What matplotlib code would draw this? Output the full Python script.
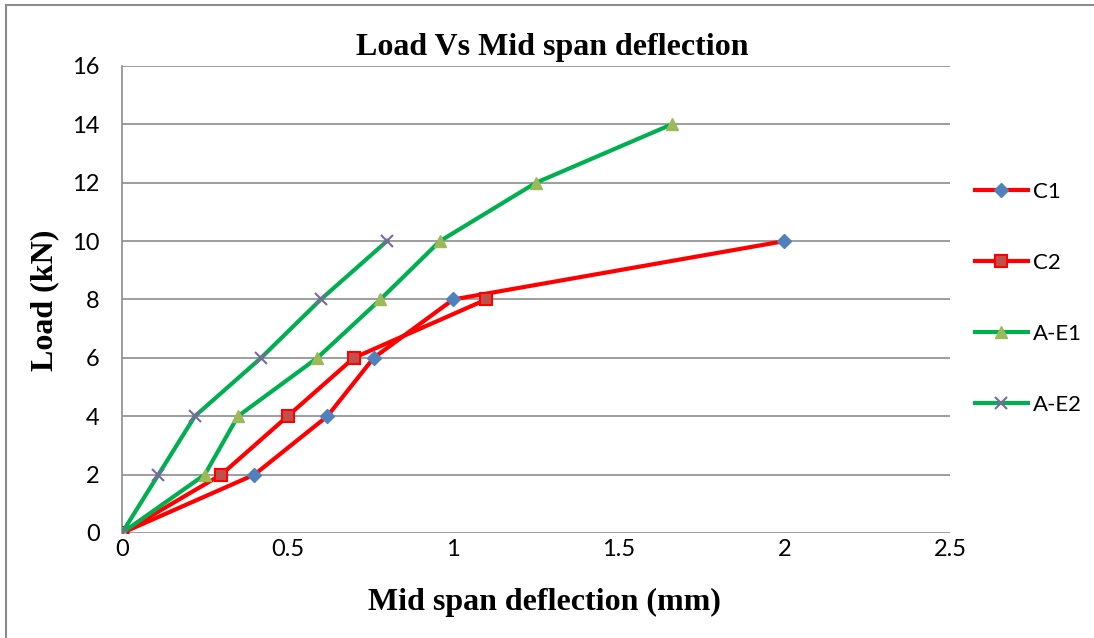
import matplotlib.pyplot as plt
from matplotlib.lines import Line2D

# deflection (mm) and load (kN)
c1_x = [0, 0.40, 0.62, 0.76, 1.00, 2.00]
c1_y = [0, 2, 4, 6, 8, 10]
c2_x = [0, 0.30, 0.50, 0.70, 1.10]
c2_y = [0, 2, 4, 6, 8]
ae1_x = [0, 0.25, 0.35, 0.59, 0.78, 0.96, 1.25, 1.66]
ae1_y = [0, 2, 4, 6, 8, 10, 12, 14]
ae2_x = [0, 0.11, 0.22, 0.42, 0.60, 0.80]
ae2_y = [0, 2, 4, 6, 8, 10]

x_ticks = [0, 0.5, 1, 1.5, 2, 2.5]
x_labels = ['0', '0.5', '1', '1.5', '2', '2.5']
y_ticks = [0, 2, 4, 6, 8, 10, 12, 14, 16]

tick_font = 'Lato'
serif = 'Liberation Serif'

fig = plt.figure(figsize=(10.94, 6.38), dpi=100)
ax = fig.add_axes([0.1115, 0.1646, 0.8684 - 0.1115, 0.8966 - 0.1646])

lw = 3
ax.plot(c1_x, c1_y, color='#FF0000', lw=lw, marker='D', ms=7.5,
        mfc='#4F81BD', mec='#4F81BD', label='C1', zorder=3)
ax.plot(c2_x, c2_y, color='#FF0000', lw=lw, marker='s', ms=8,
        mfc='#C0504D', mec='#FF0000', mew=1.5, label='C2', zorder=3)
ax.plot(ae1_x, ae1_y, color='#00B050', lw=lw, marker='^', ms=9,
        mfc='#9BBB59', mec='#9BBB59', label='A-E1', zorder=3)
ax.plot(ae2_x, ae2_y, color='#00B050', lw=lw, marker='x', ms=9,
        mec='#8064A2', mew=1.5, label='A-E2', zorder=3)

ax.set_xlim(0, 2.5)
ax.set_ylim(0, 16)
ax.set_xticks(x_ticks)
ax.set_xticklabels(x_labels)
ax.set_yticks(y_ticks)
ax.grid(axis='y', color='#8C8C8C', lw=1.2)
ax.set_axisbelow(True)
for s in ['top', 'right', 'bottom']:
    ax.spines[s].set_visible(False)
ax.spines['left'].set_color('#8C8C8C')
ax.spines['left'].set_linewidth(1.2)
ax.tick_params(length=0, labelsize=17)
ax.tick_params(axis='x', pad=4)
ax.tick_params(axis='y', pad=16)
for lab in ax.get_xticklabels() + ax.get_yticklabels():
    lab.set_family(tick_font)

fig.text(0.505, 0.926, 'Load Vs Mid span deflection', ha='center', va='center',
         family=serif, weight='bold', fontsize=23)
fig.text(0.498, 0.056, 'Mid span deflection (mm)', ha='center', va='center',
         family=serif, weight='bold', fontsize=23)
fig.text(0.041, 0.53, 'Load (kN)', ha='center', va='center', rotation=90,
         family=serif, weight='bold', fontsize=23)

leg = ax.legend(loc='center left', bbox_to_anchor=(0.891, 0.532),
                bbox_transform=fig.transFigure, frameon=False,
                labelspacing=2.3, handlelength=2.4, handletextpad=0.2,
                borderpad=0, borderaxespad=0, prop={'family': tick_font, 'size': 16})

# chart frame (left and top edges)
fig.add_artist(Line2D([0.0055, 0.0055], [0, 0.992], transform=fig.transFigure,
                      color='#8C8C8C', lw=1.5))
fig.add_artist(Line2D([0.0055, 0.999], [0.992, 0.992], transform=fig.transFigure,
                      color='#8C8C8C', lw=1.5))

fig.savefig('out.png', dpi=100)
